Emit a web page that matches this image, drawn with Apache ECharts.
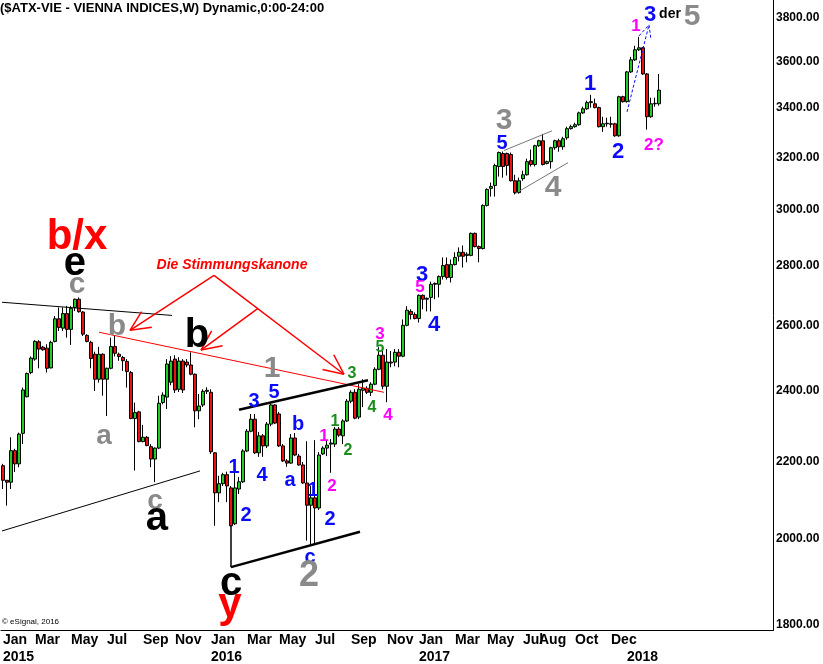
<!DOCTYPE html>
<html><head><meta charset="utf-8">
<script src="https://cdn.jsdelivr.net/npm/echarts@6/dist/echarts.min.js"></script>
<style>html,body{margin:0;padding:0;background:#fff}#c{width:823px;height:664px}</style>
</head><body><div id="c"></div>
<script>
// ---------- data ----------
const startDate = '2015-01-02';   // first weekly bar (Friday)
const nSlots = 193;               // weekly slots on the category axis (incl. empty right margin)
// weekly candles: [open, close, low, high]
const ohlc = [
[2189,2150,2127,2194],[2150,2145,2084,2151],[2145,2230,2127,2267],[2230,2194,2172,2235],[2194,2276,2185,2280],
[2278,2403,2248,2410],[2383,2452,2381,2455],[2455,2499,2450,2504],[2496,2551,2491,2555],[2550,2527,2468,2555],
[2533,2525,2522,2537],[2530,2468,2455,2542],[2469,2548,2468,2553],[2551,2623,2548,2632],[2623,2595,2584,2660],
[2593,2640,2584,2660],[2640,2589,2563,2665],[2589,2657,2540,2665],[2660,2687,2648,2689],[2687,2646,2643,2693],
[2645,2574,2568,2648],[2570,2551,2548,2574],[2548,2498,2468,2553],[2511,2435,2400,2519],[2435,2511,2425,2534],
[2511,2435,2386,2514],[2435,2468,2327,2470],[2468,2535,2465,2563],[2535,2514,2504,2568],[2511,2504,2491,2516],
[2501,2491,2460,2506],[2489,2458,2410,2496],[2455,2320,2318,2460],[2320,2337,2176,2366],[2339,2255,2253,2342],
[2255,2267,2253,2302],[2267,2244,2242,2271],[2241,2207,2185,2248],[2207,2237,2145,2239],[2237,2364,2234,2386],
[2366,2388,2361,2396],[2382,2481,2347,2496],[2426,2490,2417,2505],[2496,2403,2394,2508],[2405,2490,2397,2502],
[2490,2403,2394,2496],[2487,2478,2471,2496],[2478,2450,2447,2517],[2450,2342,2295,2452],[2342,2356,2318,2391],
[2359,2399,2353,2405],[2399,2402,2391,2411],[2396,2227,2221,2405],[2224,2117,2033,2226],[2117,2141,2093,2162],
[2141,2165,2135,2170],[2165,2135,2093,2173],[2130,2033,2030,2135],[2038,2130,2035,2173],[2127,2146,2114,2159],
[2146,2229,2143,2234],[2229,2284,2226,2290],[2284,2318,2281,2333],[2318,2224,2221,2333],[2224,2271,2213,2282],
[2271,2243,2213,2276],[2243,2304,2237,2310],[2304,2359,2298,2364],[2359,2307,2304,2361],[2333,2243,2240,2339],
[2243,2202,2199,2248],[2202,2196,2186,2207],[2196,2265,2194,2276],[2265,2218,2215,2279],[2215,2191,2189,2221],
[2191,2143,2141,2199],[2143,2085,1996,2256],[2085,2104,1984,2135],[2104,2078,1986,2259],[2078,2218,2073,2226],
[2221,2237,2218,2242],[2237,2245,2215,2259],[2248,2251,2170,2262],[2248,2290,2240,2296],[2290,2273,2268,2296],
[2271,2313,2248,2318],[2313,2370,2310,2376],[2370,2396,2364,2402],[2396,2321,2318,2405],[2324,2405,2318,2420],
[2402,2408,2353,2435],[2408,2396,2391,2414],[2396,2420,2385,2426],[2420,2465,2417,2471],[2465,2508,2462,2533],
[2508,2414,2405,2527],[2414,2487,2367,2527],[2487,2484,2471,2521],[2487,2517,2474,2527],[2517,2505,2471,2527],
[2505,2602,2502,2621],[2602,2651,2599,2664],[2647,2637,2621,2654],[2637,2624,2621,2644],[2624,2700,2611,2703],
[2700,2687,2654,2703],[2687,2690,2647,2693],[2693,2737,2647,2746],[2737,2740,2687,2743],[2737,2763,2693,2767],
[2763,2801,2753,2829],[2804,2760,2753,2829],[2760,2804,2743,2822],[2804,2829,2801,2847],[2833,2847,2815,2864],
[2847,2833,2794,2871],[2836,2840,2812,2847],[2836,2914,2833,2917],[2914,2867,2864,2917],[2867,2860,2812,2871],
[2860,3016,2857,3020],[3016,3076,3012,3080],[3080,3087,3049,3102],[3091,3168,3049,3175],[3164,3219,3125,3223],
[3215,3164,3121,3223],[3215,3168,3129,3219],[3211,3109,3106,3219],[3109,3064,3057,3132],[3064,3109,3060,3121],
[3117,3132,3109,3148],[3132,3183,3129,3195],[3187,3172,3164,3231],[3172,3246,3164,3250],[3246,3266,3242,3270],
[3266,3172,3168,3294],[3176,3183,3172,3187],[3183,3238,3156,3242],[3238,3266,3230,3270],[3266,3242,3222,3274],
[3242,3274,3230,3282],[3278,3315,3270,3323],[3315,3323,3311,3331],[3323,3331,3319,3339],[3331,3380,3327,3385],
[3380,3397,3376,3406],[3397,3423,3393,3431],[3423,3427,3402,3456],[3418,3402,3399,3440],[3402,3323,3320,3406],
[3323,3335,3302,3364],[3335,3337,3323,3360],[3335,3333,3319,3364],[3335,3286,3282,3339],[3286,3448,3282,3452],
[3448,3427,3423,3452],[3427,3555,3423,3559],[3555,3608,3550,3621],[3608,3653,3603,3671],[3653,3662,3648,3712],
[3662,3546,3542,3666],[3546,3364,3311,3550],[3364,3418,3360,3444],[3418,3420,3406,3444],[3418,3476.04,3410,3546]
];
const lastClose = 3476.04;
const yTicks = [1800,2000,2200,2400,2600,2800,3000,3200,3400,3600,3800];
const yMin = 1787, yMax = 3884;
const xTickIdx   = [0,8,17,26,35,43,52,61,69,78,87,96,104,113,121,130,134,143,152,156,161];
const xTickMonth = ['Jan','Mar','May','Jul','Sep','Nov','Jan','Mar','May','Jul','Sep','Nov','Jan','Mar','May','Jul','Aug','Oct','Dec','','Feb'];
const xTickYear  = ['2015','','','','','','2016','','','','','','2017','','','','','','','2018',''];

// annotations: [text, bar index, price, color, font size]
const GR='#8a8a8a', BL='#0a0aff', PK='#ff00ff', GN='#1c8c1c', RD='#ff0000', BK='#000000';
const notes = [
['b/x',18.5,2899,RD,42],['e',18,2805,BK,40],['c',18.5,2737,GR,30],['b',28.5,2596,GR,30],
['a',25.25,2271,GR,28],['c',38,2096,GR,28],['a',38.5,2050,BK,40],['b',48.5,2567,BK,40],
['1',67.25,2468,GR,30],['3',62.75,2370,BL,20],['5',67.75,2396,BL,20],['1',57.75,2183,BL,20],
['2',60.75,2058,BL,20],['4',64.75,2164,BL,20],['b',73.75,2304,BL,20],['a',71.75,2149,BL,20],
['1',77.5,2124,BL,20],['2',81.75,2050,BL,20],['c',76.75,1955,BL,20],['2',76.5,1912,GR,36],
['c',57,1893,BK,40],['y',56.75,1842,RD,42],
['1',80.25,2271,PK,17],['2',82.25,2133,PK,17],['1',83,2310,GN,16],['2',86.25,2229,GN,16],
['3',87.25,2453,GN,16],['3',94.25,2574,PK,17],['5',94.25,2533,GN,16],['4',92.25,2352,GN,16],
['4',96.25,2330,PK,17],['3',104.75,2770,BL,22],['5',104.25,2726,PK,17],['4',107.75,2602,BL,22],
['3',125.25,3347,GR,30],['5',124.75,3254,BL,20],['4',137.5,3083,GR,30],['1',146.75,3503,BL,22],
['2',153.75,3223,BL,22],['1',158.25,3758,PK,17],['3',161.75,3813,BL,22],['der',166.75,3818,BK,14],
['5',172.25,3804,GR,30],['2?',162.75,3246,PK,17]
];
const noteTitle = ['Die Stimmungskanone', 57.25, 2801];
// lines: [i1, p1, i2, p2, color, width, dashed]
const segs = [
[-0.25,2677,42.25,2634,BK,1,0],[-0.25,2020,49.25,2175,BK,1,0],[24,2580,95.25,2396,RD,1,0],
[59,2345,91.25,2432,BK,2.5,0],[57,1932,89.25,2018,BK,2.5,0],[57,2033,57,1932,BK,1.5,0],
[125.25,3227,137.25,3306,'#777',1,0],[128,3060,141.25,3179,'#777',1,0],
[156,3384,161.5,3767,BL,1,1],[159,3716,161.5,3767,BL,1,1],[161.5,3767,162,3698,BL,1,1]
];
// arrows: [tail i, tail p, tip i, tip p]
const arrows = [[52.75,2767,31.75,2586],[52.75,2767,85.25,2450],[63.75,2657,49.5,2524]];

// ---------- chart ----------
const categories = [];
{ const d0 = new Date(startDate + 'T00:00:00Z');
  for (let k = 0; k < nSlots; k++) { const d = new Date(d0.getTime() + k*7*86400000); categories.push(d.toISOString().slice(0,10)); } }
const tickMap = new Map(xTickIdx.map((v,k)=>[v,k]));
const FONT = '"Liberation Sans", Arial, sans-serif';

const chart = echarts.init(document.getElementById('c'));
chart.setOption({
  animation:false, backgroundColor:'#fff',
  grid:{left:0,right:50,top:0,bottom:32},
  xAxis:{type:'category',data:categories,boundaryGap:true,
    axisLine:{show:true,lineStyle:{color:'#000',width:1}},axisTick:{show:false},splitLine:{show:false},
    axisLabel:{interval:(idx)=>tickMap.has(idx),align:'left',margin:1,
      formatter:(v,idx)=>{const k=tickMap.get(idx); if(k===undefined) return ''; return '{m|'+(xTickMonth[k]||' ')+'}\n{y|'+(xTickYear[k]||' ')+'}';},
      rich:{m:{fontFamily:FONT,fontWeight:'bold',fontSize:14,color:'#000',lineHeight:17,align:'left'},
            y:{fontFamily:FONT,fontWeight:'bold',fontSize:14,color:'#000',lineHeight:17,align:'left'}}}},
  yAxis:{type:'value',position:'right',min:Math.log(yMin),max:Math.log(yMax),
    axisLine:{show:true,lineStyle:{color:'#000',width:1}},axisTick:{show:false},splitLine:{show:false},
    axisLabel:{customValues:yTicks.map(Math.log),formatter:(v)=>Math.exp(v).toFixed(2),
      fontFamily:FONT,fontWeight:'bold',fontSize:12,color:'#000',margin:3}},
  series:[{type:'candlestick',data:ohlc.map(r=>r.map(Math.log)),barWidth:3,
    itemStyle:{color:'#22cc22',color0:'#ee1111',borderColor:'#000',borderColor0:'#000',borderWidth:1},
    markLine:{silent:true,symbol:'none',lineStyle:{opacity:0},
      label:{position:'end',distance:1,formatter:lastClose.toFixed(2),backgroundColor:'#00ff00',color:'#fff',
        fontFamily:FONT,fontWeight:'bold',fontSize:12,padding:[1,2,0,2]},
      data:[{yAxis:Math.log(lastClose)}]}}]
});

function px(i,p){
  const a=chart.convertToPixel({gridIndex:0},[0,Math.log(p)]);
  const b=chart.convertToPixel({gridIndex:0},[1,Math.log(p)]);
  return [a[0]+(b[0]-a[0])*i,a[1]];
}
const g=[];
segs.forEach(s=>{const A=px(s[0],s[1]),B=px(s[2],s[3]);
  g.push({type:'line',shape:{x1:A[0],y1:A[1],x2:B[0],y2:B[1]},style:{stroke:s[4],lineWidth:s[5],lineDash:s[6]?[3,2]:null},z:10});});
arrows.forEach(a=>{const T=px(a[0],a[1]),H=px(a[2],a[3]);
  g.push({type:'line',shape:{x1:T[0],y1:T[1],x2:H[0],y2:H[1]},style:{stroke:RD,lineWidth:1.5},z:10});
  const ang=Math.atan2(T[1]-H[1],T[0]-H[0]);
  [-25,25].forEach(d=>{const r=ang+d*Math.PI/180;
    g.push({type:'line',shape:{x1:H[0],y1:H[1],x2:H[0]+22*Math.cos(r),y2:H[1]+22*Math.sin(r)},style:{stroke:RD,lineWidth:1.5},z:10});});});
notes.forEach(n=>{const P=px(n[1],n[2]);
  g.push({type:'text',x:P[0],y:P[1],z:20,style:{text:n[0],fill:n[3],font:'bold '+n[4]+'px '+FONT,align:'center',verticalAlign:'middle'}});});
{const P=px(noteTitle[1],noteTitle[2]);
 g.push({type:'text',x:P[0],y:P[1],z:20,style:{text:noteTitle[0],fill:RD,font:'italic bold 14px '+FONT,align:'center',verticalAlign:'middle'}});}
g.push({type:'text',x:0,y:8,z:20,style:{text:'($ATX-VIE - VIENNA INDICES,W) Dynamic,0:00-24:00',fill:'#000',font:'bold 13px '+FONT,align:'left',verticalAlign:'middle'}});
g.push({type:'text',x:2,y:622,z:20,style:{text:'© eSignal, 2016',fill:'#000',font:'8px '+FONT,align:'left',verticalAlign:'middle'}});
chart.setOption({graphic:g});
</script></body></html>
